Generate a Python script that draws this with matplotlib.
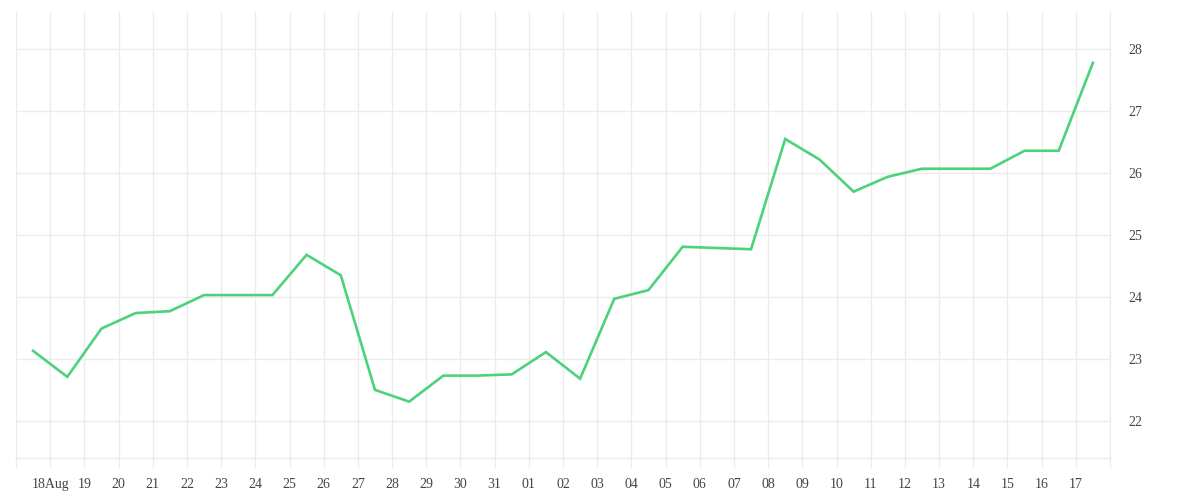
import matplotlib
matplotlib.use("Agg")
import matplotlib.pyplot as plt
import numpy as np

# daily values, Aug 17 .. Sep 17 (plotted mid-day)
values = [23.13, 22.71, 23.49, 23.74, 23.77, 24.03, 24.03, 24.03, 24.68, 24.35,
          22.50, 22.31, 22.73, 22.73, 22.75, 23.11, 22.68, 23.97, 24.11, 24.81,
          24.79, 24.77, 26.55, 26.22, 25.70, 25.94, 26.07, 26.07, 26.07, 26.36,
          26.36, 27.78]
day_labels = ["18Aug", "19", "20", "21", "22", "23", "24", "25", "26", "27", "28",
              "29", "30", "31", "01", "02", "03", "04", "05", "06", "07", "08",
              "09", "10", "11", "12", "13", "14", "15", "16", "17"]
y_ticks = [22, 23, 24, 25, 26, 27, 28]

grid_c = "#ececec"
text_c = "#444444"

plt.rcParams['font.family'] = ['Liberation Serif', 'DejaVu Serif']

fig = plt.figure(figsize=(12, 5), dpi=100)
ax = fig.add_axes([16/1200, 42/500, 1094/1200, 446/500])

x = np.arange(len(values)) + 0.5
ax.plot(x, values, color="#4cd27c", lw=1.9, solid_joinstyle="miter")

ax.set_xlim(0, len(values))
ax.set_ylim(21.4, 28.6)

ax.set_xticks(np.arange(0, len(values) + 1))
ax.set_xticklabels([""] + day_labels + [""])
ax.set_yticks(y_ticks)
ax.yaxis.tick_right()

ax.grid(True, color=grid_c, lw=1)
ax.set_axisbelow(True)
for s in ["top", "left"]:
    ax.spines[s].set_visible(False)
for s in ["bottom", "right"]:
    ax.spines[s].set_color(grid_c)
    ax.spines[s].set_linewidth(1)

ax.tick_params(axis="x", length=7.5, color=grid_c, width=1, pad=7,
               labelsize=10, labelcolor=text_c)
ax.tick_params(axis="y", length=0, pad=13, labelsize=10, labelcolor=text_c)

fig.savefig("out.png", dpi=100, facecolor="white")
